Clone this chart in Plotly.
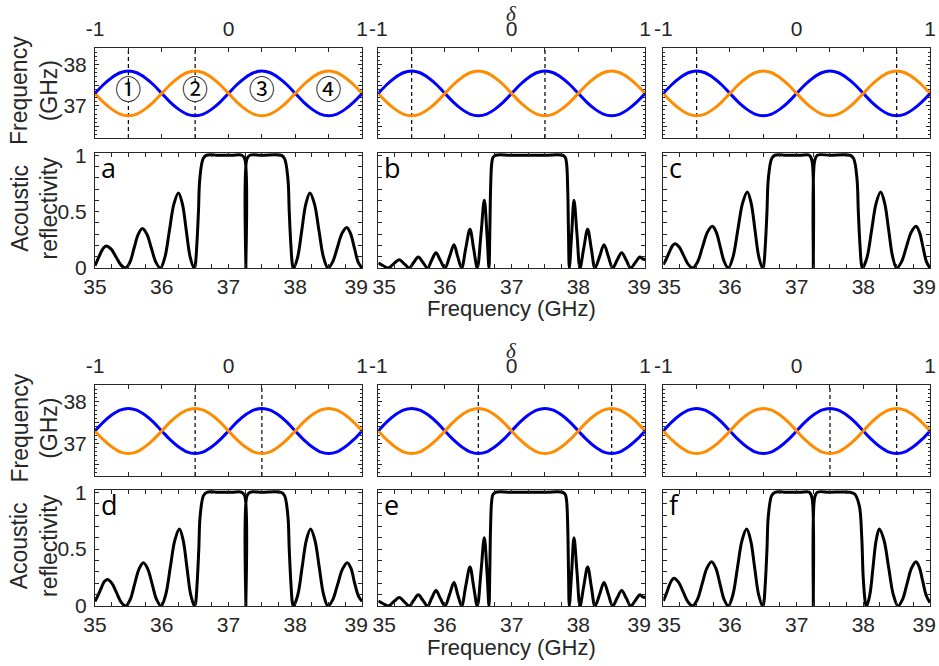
import plotly.graph_objects as go

W, H = 939, 666

# ---------------- data ----------------
# Phase parameter of the superlattice (top axis) and the two band edges
delta = [-1.0, -0.9375, -0.875, -0.8125, -0.75, -0.6875, -0.625, -0.5625, -0.5,
         -0.4375, -0.375, -0.3125, -0.25, -0.1875, -0.125, -0.0625, 0.0,
         0.0625, 0.125, 0.1875, 0.25, 0.3125, 0.375, 0.4375, 0.5,
         0.5625, 0.625, 0.6875, 0.75, 0.8125, 0.875, 0.9375, 1.0]
band_blue = [37.30, 37.51, 37.68, 37.80, 37.84, 37.80, 37.68, 37.51, 37.30,
             37.09, 36.92, 36.80, 36.76, 36.80, 36.92, 37.09, 37.30,
             37.51, 37.68, 37.80, 37.84, 37.80, 37.68, 37.51, 37.30,
             37.09, 36.92, 36.80, 36.76, 36.80, 36.92, 37.09, 37.30]
band_orange = [37.30, 37.09, 36.92, 36.80, 36.76, 36.80, 36.92, 37.09, 37.30,
               37.51, 37.68, 37.80, 37.84, 37.80, 37.68, 37.51, 37.30,
               37.09, 36.92, 36.80, 36.76, 36.80, 36.92, 37.09, 37.30,
               37.51, 37.68, 37.80, 37.84, 37.80, 37.68, 37.51, 37.30]

# delta positions of the stacked cavities (dashed markers) for each panel
cavity_delta = {
    "a": [-0.75, -0.25],
    "b": [-0.75, 0.25],
    "c": [-0.75, 0.75],
    "d": [-0.25, 0.25],
    "e": [-0.25, 0.75],
    "f": [0.25, 0.75],
}
cavity_labels = ["①", "②", "③", "④"]
cavity_label_delta = [-0.75, -0.25, 0.25, 0.75]
cavity_label_freq = [37.33, 37.33, 37.33, 37.33]

# acoustic reflectivity spectra (frequency in GHz, reflectivity)
freq_a = [35.00, 35.045, 35.09, 35.13, 35.17, 35.2425, 35.315, 35.3875, 35.46,
          35.5225, 35.585, 35.6475, 35.71, 35.7775, 35.845, 35.9125, 35.98,
          36.0475, 36.115, 36.1825, 36.25, 36.309, 36.3675, 36.426, 36.485,
          36.50, 36.525, 36.55, 36.57, 36.62, 36.67, 36.85, 37.05, 37.20,
          37.243, 37.26, 37.277, 37.32, 37.50, 37.79,
          37.84, 37.89, 37.91, 37.935, 37.96, 37.975,
          38.036, 38.0975, 38.159, 38.22, 38.2875, 38.355, 38.4225, 38.49,
          38.56, 38.63, 38.70, 38.77, 38.8275, 38.885, 38.9425, 39.00]
refl_a = [0.02, 0.08, 0.14, 0.18, 0.195, 0.167, 0.098, 0.028, 0.0,
          0.051, 0.175, 0.299, 0.35, 0.299, 0.175, 0.051, 0.0,
          0.097, 0.333, 0.568, 0.665, 0.568, 0.333, 0.097, 0.0,
          0.02, 0.2, 0.5, 0.79, 0.97, 1.0, 1.0, 1.0, 1.0,
          0.97, 0.0, 0.97, 1.0, 1.0, 1.0,
          0.97, 0.79, 0.5, 0.2, 0.02, 0.0,
          0.097, 0.333, 0.568, 0.665, 0.568, 0.333, 0.097, 0.0,
          0.053, 0.18, 0.307, 0.36, 0.307, 0.18, 0.053, 0.0]

freq_b = [35.00, 35.075, 35.15,
          35.23, 35.315, 35.39, 35.465,
          35.53, 35.60, 35.67, 35.74,
          35.80, 35.865, 35.93, 36.00,
          36.07, 36.135, 36.19, 36.25,
          36.31, 36.375, 36.43, 36.485,
          36.54, 36.59, 36.63, 36.66,
          36.672, 36.684, 36.70, 36.72, 36.76, 37.00, 37.50, 37.765,
          37.805, 37.825, 37.841, 37.853, 37.865,
          37.90, 37.935, 37.98, 38.025,
          38.08, 38.14, 38.195, 38.25,
          38.32, 38.385, 38.45, 38.515,
          38.58, 38.65, 38.72, 38.785,
          38.855, 38.925, 38.965, 39.00]
refl_b = [0.044, 0.02, 0.0,
          0.037, 0.074, 0.037, 0.0,
          0.049, 0.098, 0.049, 0.0,
          0.068, 0.136, 0.068, 0.0,
          0.103, 0.207, 0.103, 0.0,
          0.17, 0.343, 0.17, 0.0,
          0.30, 0.60, 0.30, 0.0,
          0.30, 0.70, 0.92, 0.98, 1.0, 1.0, 1.0, 1.0,
          0.98, 0.92, 0.70, 0.30, 0.0,
          0.30, 0.60, 0.30, 0.0,
          0.17, 0.343, 0.17, 0.0,
          0.103, 0.207, 0.103, 0.0,
          0.068, 0.136, 0.068, 0.0,
          0.049, 0.098, 0.08, 0.075]

freq_c = [35.00, 35.045, 35.09, 35.135, 35.175, 35.241, 35.3075, 35.374, 35.44,
          35.514, 35.5875, 35.661, 35.735, 35.795, 35.855, 35.915, 35.975,
          36.046, 36.1175, 36.189, 36.26, 36.3175, 36.375, 36.4325, 36.49,
          36.505, 36.53, 36.555, 36.575, 36.625, 36.675, 36.85, 37.05, 37.19,
          37.23, 37.25, 37.27, 37.31, 37.50, 37.80,
          37.855, 37.905, 37.925, 37.95, 37.975, 37.99,
          38.0575, 38.125, 38.1925, 38.26, 38.32, 38.38, 38.44, 38.50,
          38.5725, 38.645, 38.7175, 38.79, 38.8425, 38.895, 38.9475, 39.00]
refl_c = [0.03, 0.08, 0.14, 0.195, 0.216, 0.184, 0.108, 0.032, 0.0,
          0.054, 0.185, 0.316, 0.37, 0.316, 0.185, 0.054, 0.0,
          0.099, 0.338, 0.576, 0.675, 0.576, 0.338, 0.099, 0.0,
          0.02, 0.2, 0.5, 0.79, 0.97, 1.0, 1.0, 1.0, 1.0,
          0.95, 0.0, 0.95, 1.0, 1.0, 1.0,
          0.97, 0.79, 0.5, 0.2, 0.02, 0.0,
          0.099, 0.338, 0.576, 0.675, 0.576, 0.338, 0.099, 0.0,
          0.054, 0.185, 0.316, 0.37, 0.316, 0.185, 0.054, 0.0]

freq_d = [35.00, 35.05, 35.095, 35.14, 35.185, 35.254, 35.3225, 35.391, 35.46,
          35.526, 35.5925, 35.659, 35.725, 35.791, 35.8575, 35.924, 35.99,
          36.059, 36.1275, 36.196, 36.265, 36.321, 36.3775, 36.434, 36.49,
          36.505, 36.53, 36.555, 36.575, 36.625, 36.675, 36.85, 37.05, 37.20,
          37.243, 37.26, 37.277, 37.32, 37.50, 37.79,
          37.84, 37.89, 37.91, 37.935, 37.96, 37.975,
          38.039, 38.1025, 38.166, 38.23, 38.295, 38.36, 38.425, 38.49,
          38.5625, 38.635, 38.7075, 38.78, 38.835, 38.89, 38.945, 39.00]
refl_d = [0.04, 0.10, 0.16, 0.215, 0.233, 0.199, 0.117, 0.034, 0.0,
          0.055, 0.19, 0.325, 0.38, 0.325, 0.19, 0.055, 0.0,
          0.099, 0.338, 0.577, 0.676, 0.577, 0.338, 0.099, 0.0,
          0.02, 0.2, 0.5, 0.79, 0.97, 1.0, 1.0, 1.0, 1.0,
          0.97, 0.0, 0.97, 1.0, 1.0, 1.0,
          0.97, 0.79, 0.5, 0.2, 0.02, 0.0,
          0.099, 0.338, 0.577, 0.676, 0.577, 0.338, 0.099, 0.0,
          0.056, 0.19, 0.324, 0.38, 0.33, 0.20, 0.09, 0.04]

freq_e = [35.00, 35.075, 35.15,
          35.23, 35.315, 35.39, 35.465,
          35.53, 35.60, 35.67, 35.74,
          35.80, 35.865, 35.93, 36.00,
          36.07, 36.135, 36.19, 36.25,
          36.31, 36.375, 36.43, 36.485,
          36.54, 36.59, 36.63, 36.66,
          36.672, 36.684, 36.70, 36.72, 36.76, 37.00, 37.50, 37.765,
          37.805, 37.825, 37.841, 37.853, 37.865,
          37.90, 37.935, 37.98, 38.025,
          38.08, 38.14, 38.195, 38.25,
          38.32, 38.385, 38.45, 38.515,
          38.58, 38.65, 38.72, 38.785,
          38.855, 38.925, 38.965, 39.00]
refl_e = [0.044, 0.02, 0.0,
          0.037, 0.074, 0.037, 0.0,
          0.049, 0.098, 0.049, 0.0,
          0.068, 0.136, 0.068, 0.0,
          0.103, 0.207, 0.103, 0.0,
          0.17, 0.343, 0.17, 0.0,
          0.30, 0.60, 0.30, 0.0,
          0.30, 0.70, 0.92, 0.98, 1.0, 1.0, 1.0, 1.0,
          0.98, 0.92, 0.70, 0.30, 0.0,
          0.30, 0.60, 0.30, 0.0,
          0.17, 0.343, 0.17, 0.0,
          0.103, 0.207, 0.103, 0.0,
          0.068, 0.136, 0.068, 0.0,
          0.049, 0.098, 0.08, 0.075]

freq_f = [35.00, 35.04, 35.08, 35.12, 35.16, 35.23, 35.30, 35.37, 35.44,
          35.511, 35.5825, 35.654, 35.725, 35.7875, 35.85, 35.9125, 35.975,
          36.044, 36.1125, 36.181, 36.25, 36.31, 36.37, 36.43, 36.49,
          36.505, 36.53, 36.555, 36.575, 36.625, 36.675, 36.85, 37.05, 37.19,
          37.23, 37.25, 37.27, 37.31, 37.50, 37.80,
          37.87, 37.94, 37.975, 38.00, 38.035, 38.05,
          38.0975, 38.145, 38.1925, 38.24, 38.31, 38.38, 38.45, 38.52,
          38.5875, 38.655, 38.7225, 38.79, 38.84, 38.89, 38.945, 39.00]
refl_f = [0.044, 0.10, 0.165, 0.22, 0.244, 0.208, 0.122, 0.036, 0.0,
          0.057, 0.195, 0.333, 0.39, 0.333, 0.195, 0.057, 0.0,
          0.099, 0.338, 0.577, 0.676, 0.577, 0.338, 0.099, 0.0,
          0.02, 0.2, 0.5, 0.79, 0.97, 1.0, 1.0, 1.0, 1.0,
          0.95, 0.0, 0.95, 1.0, 1.0, 1.0,
          0.985, 0.88, 0.62, 0.235, 0.015, 0.0,
          0.099, 0.338, 0.578, 0.677, 0.578, 0.338, 0.099, 0.0,
          0.057, 0.195, 0.333, 0.39, 0.34, 0.22, 0.09, 0.03]

spectra = {
    "a": (freq_a, refl_a), "b": (freq_b, refl_b), "c": (freq_c, refl_c),
    "d": (freq_d, refl_d), "e": (freq_e, refl_e), "f": (freq_f, refl_f),
}
panels = ["a", "b", "c", "d", "e", "f"]

# ---------------- layout geometry (pixels) ----------------
col_px = [(95, 362), (378.3, 645), (663.3, 930)]
row_px = [((48, 138), (153, 268)), ((385, 476), (490, 606))]


def xdom(l, r):
    return [l / W, r / W]


def ydom(t, b):
    return [1 - b / H, 1 - t / H]


def sfx(i):
    return "" if i == 1 else str(i)


INK = "#262626"
FONT = "Liberation Sans, Arial, sans-serif"
BLUE = "#0000FF"
ORANGE = "#FF8C00"
NB = "\u00a0\u00a0"  # nudges the end labels inward so neighbours stay apart

base_axis = dict(
    showline=True, linecolor=INK, linewidth=1, mirror="allticks",
    ticks="inside", tickcolor=INK, ticklen=4, tickwidth=1,
    showgrid=False, zeroline=False, fixedrange=True,
    tickfont=dict(family=FONT, size=21, color=INK),
    ticklabelstandoff=3,
)

delta_ticks = [-1, -0.75, -0.5, -0.25, 0, 0.25, 0.5, 0.75, 1]
delta_text = ["-1", "", "", "", "0", "", "", "", "1"]
fband_ticks = [36.5, 37, 37.5, 38]
fband_text = ["", "37", "", "38"]
f_ticks = [35 + 0.25 * i for i in range(17)]
r_ticks = [round(0.1 * i, 1) for i in range(11)]
r_text = ["0", "", "", "", "", "0.5", "", "", "", "", "1"]


def freq_text(col):
    out = [str(int(v)) if float(v).is_integer() else "" for v in f_ticks]
    if col > 0:
        out[0] = NB + out[0]
    out[-1] = out[-1] + NB
    return out


fig = go.Figure()
layout = dict(
    width=W, height=H, margin=dict(l=0, r=0, t=0, b=0, autoexpand=False),
    paper_bgcolor="white", plot_bgcolor="white", showlegend=False,
)
shapes = []
annotations = []


def note(text, x_px, y_px, size, family=FONT, color=INK, angle=0,
         xanchor="center", yanchor="middle"):
    annotations.append(dict(
        text=text, xref="paper", yref="paper", x=x_px / W, y=1 - y_px / H,
        xanchor=xanchor, yanchor=yanchor, textangle=angle, showarrow=False,
        font=dict(family=family, size=size, color=color)))


for k, p in enumerate(panels):
    row, col = divmod(k, 3)
    (ft, fb), (rt, rb) = row_px[row]
    cl, cr = col_px[col]
    sb = sfx(2 * k + 1)
    sr = sfx(2 * k + 2)
    xb, yb = "x" + sb, "y" + sb
    xr, yr = "x" + sr, "y" + sr

    # band diagram
    fig.add_trace(go.Scatter(x=delta, y=band_blue, mode="lines", xaxis=xb, yaxis=yb,
                             line=dict(color=BLUE, width=3, shape="spline")))
    fig.add_trace(go.Scatter(x=delta, y=band_orange, mode="lines", xaxis=xb, yaxis=yb,
                             line=dict(color=ORANGE, width=3, shape="spline")))
    layout["xaxis" + sb] = dict(
        base_axis, domain=xdom(cl, cr), anchor=yb, side="top", range=[-1, 1],
        tickmode="array", tickvals=delta_ticks, ticktext=delta_text,
        ticklabeloverflow="allow")
    layout["yaxis" + sb] = dict(
        base_axis, domain=ydom(ft, fb), anchor=xb, range=[36.22, 38.4],
        tickmode="array", tickvals=fband_ticks, ticktext=fband_text,
        showticklabels=(col == 0),
        minor=dict(tickmode="linear", tick0=36.2, dtick=0.1, ticks="inside",
                   ticklen=2, tickcolor=INK))
    for d in cavity_delta[p]:
        shapes.append(dict(type="line", xref=xb, yref=yb + " domain", layer="below",
                           x0=d, x1=d, y0=0, y1=1,
                           line=dict(color="black", width=1.2, dash="4px,3px")))

    # reflectivity spectrum
    fx, fy = spectra[p]
    fig.add_trace(go.Scatter(x=fx, y=fy, mode="lines", xaxis=xr, yaxis=yr,
                             line=dict(color="black", width=3, shape="spline",
                                       smoothing=1.0)))
    layout["xaxis" + sr] = dict(
        base_axis, domain=xdom(cl, cr), anchor=yr, range=[35, 39],
        tickmode="array", tickvals=f_ticks, ticktext=freq_text(col),
        ticklabelstandoff=0, ticklabeloverflow="allow")
    layout["yaxis" + sr] = dict(
        base_axis, domain=ydom(rt, rb), anchor=xr, range=[0, 1.02],
        tickmode="array", tickvals=r_ticks, ticktext=r_text,
        showticklabels=(col == 0))

    note(p, cl + 4, rt - 6, 27, family="Open Sans, sans-serif", color="black",
         xanchor="left", yanchor="top")

# circled cavity numbers in the first band diagram (white discs mask the dashes)
fig.add_trace(go.Scatter(
    x=cavity_label_delta, y=cavity_label_freq, mode="markers+text", xaxis="x", yaxis="y",
    marker=dict(color="white", size=20, line=dict(width=0)),
    text=cavity_labels, textposition="middle center",
    textfont=dict(family="Noto Sans CJK SC, DejaVu Sans", size=26, color="black")))

# axis titles drawn as annotations
cx = (col_px[1][0] + col_px[1][1]) / 2
for row in range(2):
    (ft, fb), (rt, rb) = row_px[row]
    note("Frequency<br>(GHz)", 34, (ft + fb) / 2 - 2, 23, angle=-90)
    note("Acoustic<br>reflectivity", 34, (rt + rb) / 2 - 2, 23, angle=-90)
    note("<i>δ</i>", cx, ft - 48, 21,
         family="Liberation Serif, Times New Roman, serif", yanchor="top")
    note("Frequency (GHz)", cx, rb + 41, 22)

layout["shapes"] = shapes
layout["annotations"] = annotations
fig.update_layout(**layout)
fig.write_html("out.html")
